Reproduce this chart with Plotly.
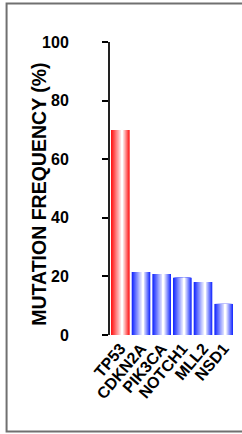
import plotly.graph_objects as go

genes = ["TP53", "CDKN2A", "PIK3CA", "NOTCH1", "MLL2", "NSD1"]
freq = [70.0, 21.5, 20.8, 19.5, 18.1, 10.6]
bar_group = ["red", "blue", "blue", "blue", "blue", "blue"]
y_ticks = [0, 20, 40, 60, 80, 100]

edge_rgb = {"red": (255, 20, 20), "blue": (20, 40, 255)}

fig = go.Figure()

N = 14
W = 0.9
peak = 0.6
for k in range(N):
    t = k / (N - 1)
    left = peak * W * k / N
    right = W - (1 - peak) * W * k / N
    width = right - left
    cols = []
    for g in bar_group:
        r, gg, b = edge_rgb[g]
        cols.append("rgb(%d,%d,%d)" % (r + (255 - r) * t, gg + (255 - gg) * t, b + (255 - b) * t))
    fig.add_trace(go.Bar(
        x=genes, y=freq,
        width=[width] * len(genes),
        offset=[-W / 2 + left] * len(genes),
        marker=dict(color=cols, line=dict(width=0)),
        hoverinfo="skip" if k else None,
        showlegend=False,
    ))

PW, PH = 124.8, 293.0
fig.update_layout(
    barmode="overlay",
    width=242, height=434,
    margin=dict(l=109.6, r=7.6, t=42, b=99, autoexpand=False),
    paper_bgcolor="white", plot_bgcolor="white",
    font=dict(family="Liberation Sans, Arial", color="black"),
    xaxis=dict(
        type="category", range=[-0.5, 5.5], automargin=False,
        tickangle=-50, tickfont=dict(size=16, weight="bold"),
        showline=False, ticks="", showgrid=False, zeroline=False,
    ),
    yaxis=dict(
        range=[0, 100], tickvals=y_ticks, automargin=False,
        tickfont=dict(size=16, weight="bold"),
        ticks="outside", ticklen=6, tickcolor="black", tickwidth=1.5,
        ticklabelstandoff=30,
        showline=True, linecolor="#222", linewidth=2,
        showgrid=False, zeroline=False,
    ),
    annotations=[dict(
        text="<b>MUTATION FREQUENCY (%)</b>", textangle=-90,
        xref="paper", yref="paper",
        x=(38.5 - 109.6) / PW, y=0.48,
        xanchor="center", yanchor="middle", showarrow=False,
        font=dict(size=19.5, family="Liberation Sans, Arial", color="black"),
    )],
    shapes=[dict(
        type="rect", xref="paper", yref="paper",
        x0=(5.5 - 109.6) / PW, x1=(250 - 109.6) / PW,
        y0=-(431.5 - 335) / PH, y1=1 + (42 - 3.5) / PH,
        line=dict(color="#707070", width=2), fillcolor="rgba(0,0,0,0)",
    )],
)

fig.write_html("out.html", config={"displayModeBar": False},
               post_script="document.body.style.margin='0px';")
